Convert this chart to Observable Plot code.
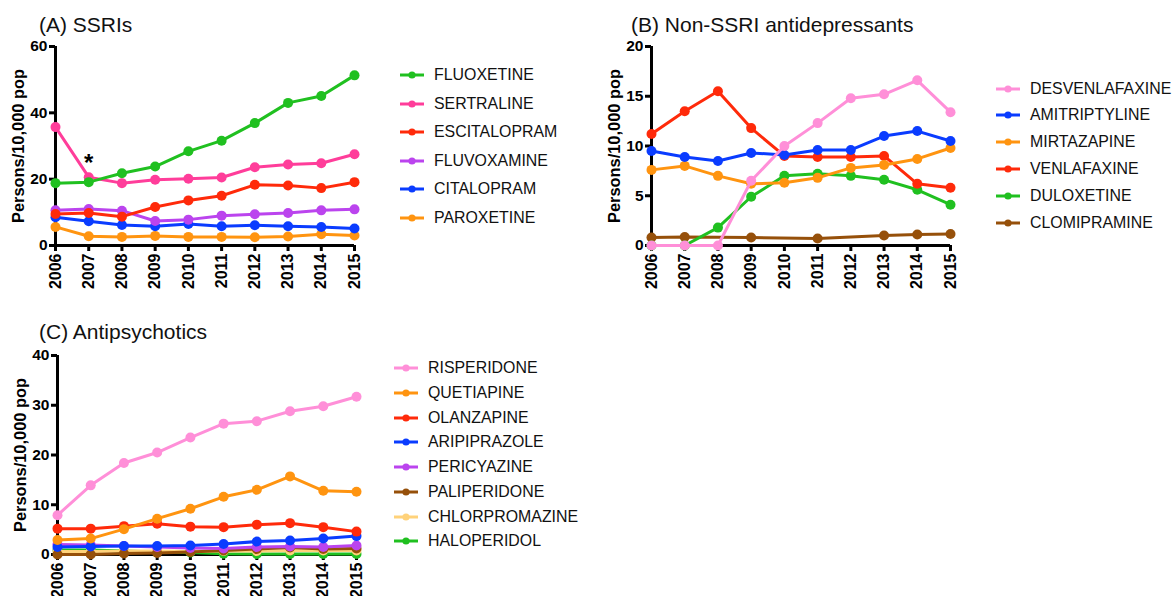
<!DOCTYPE html>
<html><head><meta charset="utf-8">
<script src="https://cdn.jsdelivr.net/npm/d3@7"></script>
<script src="https://cdn.jsdelivr.net/npm/@observablehq/plot@0.6"></script>
<style>
body{margin:0;background:#fff;width:1175px;height:596px;position:relative;overflow:hidden;font-family:"Liberation Sans",Arial,Helvetica,sans-serif;}
.panel{position:absolute;}
.panel svg{overflow:visible;}
.title{position:absolute;font-size:21px;line-height:21px;color:#111;white-space:nowrap;}
.lrow{position:absolute;height:20px;display:flex;align-items:center;white-space:nowrap;font-size:15.9px;color:#111;}
.lrow svg{margin-right:10px;}
</style></head><body>
<script>
// ---------- data ----------
const years = [2006, 2007, 2008, 2009, 2010, 2011, 2012, 2013, 2014, 2015];

// (A) SSRIs
const ssriNames = ["FLUOXETINE", "SERTRALINE", "ESCITALOPRAM", "FLUVOXAMINE", "CITALOPRAM", "PAROXETINE"];
const ssriColors = ["#20c020", "#ff3d9a", "#ff2a0a", "#bb44ee", "#0a3cff", "#ff9410"];
const FLUOXETINE   = [18.8, 19.1, 21.8, 23.8, 28.4, 31.6, 36.9, 43.0, 45.1, 51.3];
const SERTRALINE   = [35.7, 20.6, 18.8, 19.8, 20.1, 20.5, 23.6, 24.4, 24.8, 27.5];
const ESCITALOPRAM = [9.5, 9.8, 8.7, 11.6, 13.6, 15.0, 18.3, 18.1, 17.3, 19.1];
const FLUVOXAMINE  = [10.6, 11.0, 10.5, 7.4, 7.8, 9.0, 9.4, 9.8, 10.6, 10.9];
const CITALOPRAM   = [8.5, 7.3, 6.2, 5.8, 6.5, 5.8, 6.1, 5.8, 5.6, 5.1];
const PAROXETINE   = [5.6, 2.8, 2.6, 2.9, 2.6, 2.6, 2.5, 2.7, 3.4, 3.0];
const ssriTicks = [0, 20, 40, 60];
const ssriNotes = [{year: 2007, value: 24.8, label: "*"}];

// (B) Non-SSRI antidepressants
const nonSsriNames = ["DESVENLAFAXINE", "AMITRIPTYLINE", "MIRTAZAPINE", "VENLAFAXINE", "DULOXETINE", "CLOMIPRAMINE"];
const nonSsriColors = ["#ff8fd8", "#0a3cff", "#ff9410", "#ff2a0a", "#20c020", "#96500a"];
const DESVENLAFAXINE = [0, 0, 0, 6.5, 10.0, 12.3, 14.8, 15.2, 16.6, 13.4];
const AMITRIPTYLINE  = [9.5, 8.9, 8.5, 9.3, 9.1, 9.6, 9.6, 11.0, 11.5, 10.5];
const MIRTAZAPINE    = [7.6, 8.0, 7.0, 6.2, 6.3, 6.8, 7.8, 8.1, 8.7, 9.8];
const VENLAFAXINE    = [11.2, 13.5, 15.5, 11.8, 9.0, 8.9, 8.9, 9.0, 6.2, 5.8];
const DULOXETINE     = [0, 0, 1.8, 4.9, 7.0, 7.2, 7.0, 6.6, 5.6, 4.1];
const CLOMIPRAMINE   = [0.8, 0.85, null, 0.8, null, 0.7, null, 1.0, 1.1, 1.15];
const nonSsriTicks = [0, 5, 10, 15, 20];

// (C) Antipsychotics
const apNames = ["RISPERIDONE", "QUETIAPINE", "OLANZAPINE", "ARIPIPRAZOLE", "PERICYAZINE", "PALIPERIDONE", "CHLORPROMAZINE", "HALOPERIDOL"];
const apColors = ["#ff8fd8", "#ff9410", "#ff2a0a", "#0a3cff", "#bb44ee", "#96500a", "#ffd27a", "#20c020"];
const RISPERIDONE    = [7.9, 13.9, 18.4, 20.5, 23.5, 26.3, 26.8, 28.8, 29.8, 31.7];
const QUETIAPINE     = [2.9, 3.2, 5.1, 7.2, 9.2, 11.6, 13.0, 15.7, 12.8, 12.6];
const OLANZAPINE     = [5.2, 5.2, 5.7, 6.2, 5.6, 5.5, 6.0, 6.3, 5.5, 4.6];
const ARIPIPRAZOLE   = [1.5, 1.6, 1.7, 1.7, 1.8, 2.1, 2.6, 2.8, 3.2, 3.7];
const PERICYAZINE    = [2.0, 1.9, 1.7, 1.5, 1.3, 1.2, 1.5, 1.6, 1.5, 1.8];
const PALIPERIDONE   = [0, 0, 0.2, 0.3, 0.5, 0.8, 1.1, 1.4, 1.1, 1.2];
const CHLORPROMAZINE = [0.6, 0.6, 0.7, 0.7, 0.6, 0.7, 0.7, 0.8, 0.8, 0.8];
const HALOPERIDOL    = [0.9, 0.9, 0.7, 0.5, 0.4, 0.15, 0.1, 0.1, 0.1, 0.1];
const apTicks = [0, 10, 20, 30, 40];

// ---------- drawing ----------
const FONT = '"Liberation Sans", Arial, Helvetica, sans-serif';

function makePanel({names, colors, series, ticks, notes, left, top, title, titleLeft, titleTop, legend}) {
  const rows = [];
  names.forEach((n, i) => series[i].forEach((v, j) => {
    if (v != null) rows.push({drug: n, year: years[j], value: v});
  }));
  const dataMarks = [];
  for (let i = names.length - 1; i >= 0; i--) {
    const d = rows.filter(r => r.drug === names[i]);
    dataMarks.push(Plot.line(d, {x: "year", y: "value", stroke: colors[i], strokeWidth: 3, clip: false}));
    dataMarks.push(Plot.dot(d, {x: "year", y: "value", fill: colors[i], r: 5, clip: false}));
  }
  const chart = Plot.plot({
    width: 364, height: 300,
    marginLeft: 55, marginRight: 10, marginTop: 46, marginBottom: 55,
    x: {domain: [years[0], years[years.length - 1]]},
    y: {domain: [ticks[0], ticks[ticks.length - 1]]},
    style: {fontFamily: FONT, color: "#000", background: "transparent", overflow: "visible"},
    marks: [
      Plot.ruleX([years[0]], {stroke: "#000", strokeWidth: 3}),
      Plot.ruleY([0], {stroke: "#000", strokeWidth: 3}),
      Plot.axisX({ticks: years, tickFormat: d => String(d), tickRotate: -90, tickSize: 6, tickPadding: 2,
        fontSize: 16, fontWeight: "bold", label: null}),
      Plot.axisY({ticks: ticks, tickSize: 6, tickPadding: 2, fontSize: 15.5, fontWeight: "bold", label: null}),
      Plot.axisY({ticks: [], tickSize: 0, fontSize: 16.4, fontWeight: "bold",
        label: "Persons/10,000 pop", labelAnchor: "center", labelArrow: "none", labelOffset: 43}),
      ...dataMarks,
      ...(notes ? [Plot.text(notes, {x: "year", y: "value", text: "label", fontSize: 24, fontWeight: "bold"})] : [])
    ]
  });
  const wrap = document.createElement("div");
  wrap.className = "panel";
  wrap.style.left = left + "px";
  wrap.style.top = top + "px";
  wrap.appendChild(chart);
  document.body.appendChild(wrap);
  chart.querySelectorAll('g[aria-label$="-axis tick"]').forEach(g => {
    g.setAttribute("stroke-width", "3");
    g.querySelectorAll("path,line").forEach(p => p.setAttribute("stroke-width", "3"));
  });
  chart.querySelectorAll('g[aria-label="rule"]').forEach(g => {
    g.setAttribute("stroke-width", "3");
    g.querySelectorAll("line").forEach(p => p.setAttribute("stroke-width", "3"));
  });
  chart.querySelectorAll('g[aria-label$="axis tick label"], g[aria-label$="axis label"]').forEach(g => g.setAttribute("font-weight", "bold"));

  const t = document.createElement("div");
  t.className = "title";
  t.textContent = title;
  t.style.left = titleLeft + "px";
  t.style.top = titleTop + "px";
  document.body.appendChild(t);

  names.forEach((n, i) => {
    const r = document.createElement("div");
    r.className = "lrow";
    r.style.left = legend.left + "px";
    r.style.top = (legend.top + i * legend.step - 10) + "px";
    r.innerHTML = `<svg width="24" height="10"><line x1="0" x2="24" y1="5" y2="5" stroke="${colors[i]}" stroke-width="3"/><circle cx="12" cy="5" r="3.6" fill="${colors[i]}"/></svg><span>${n}</span>`;
    document.body.appendChild(r);
  });
}

makePanel({names: ssriNames, colors: ssriColors,
  series: [FLUOXETINE, SERTRALINE, ESCITALOPRAM, FLUVOXAMINE, CITALOPRAM, PAROXETINE],
  ticks: ssriTicks, notes: ssriNotes, left: 0, top: 0,
  title: "(A) SSRIs", titleLeft: 39, titleTop: 13.5,
  legend: {left: 400, top: 75, step: 28.5}});

makePanel({names: nonSsriNames, colors: nonSsriColors,
  series: [DESVENLAFAXINE, AMITRIPTYLINE, MIRTAZAPINE, VENLAFAXINE, DULOXETINE, CLOMIPRAMINE],
  ticks: nonSsriTicks, left: 596, top: 0,
  title: "(B) Non-SSRI antidepressants", titleLeft: 631, titleTop: 13.5,
  legend: {left: 996, top: 88.5, step: 26.8}});

makePanel({names: apNames, colors: apColors,
  series: [RISPERIDONE, QUETIAPINE, OLANZAPINE, ARIPIPRAZOLE, PERICYAZINE, PALIPERIDONE, CHLORPROMAZINE, HALOPERIDOL],
  ticks: apTicks, left: 2, top: 309,
  title: "(C) Antipsychotics", titleLeft: 39, titleTop: 320.5,
  legend: {left: 394, top: 368.3, step: 24.7}});
</script>
</body></html>
